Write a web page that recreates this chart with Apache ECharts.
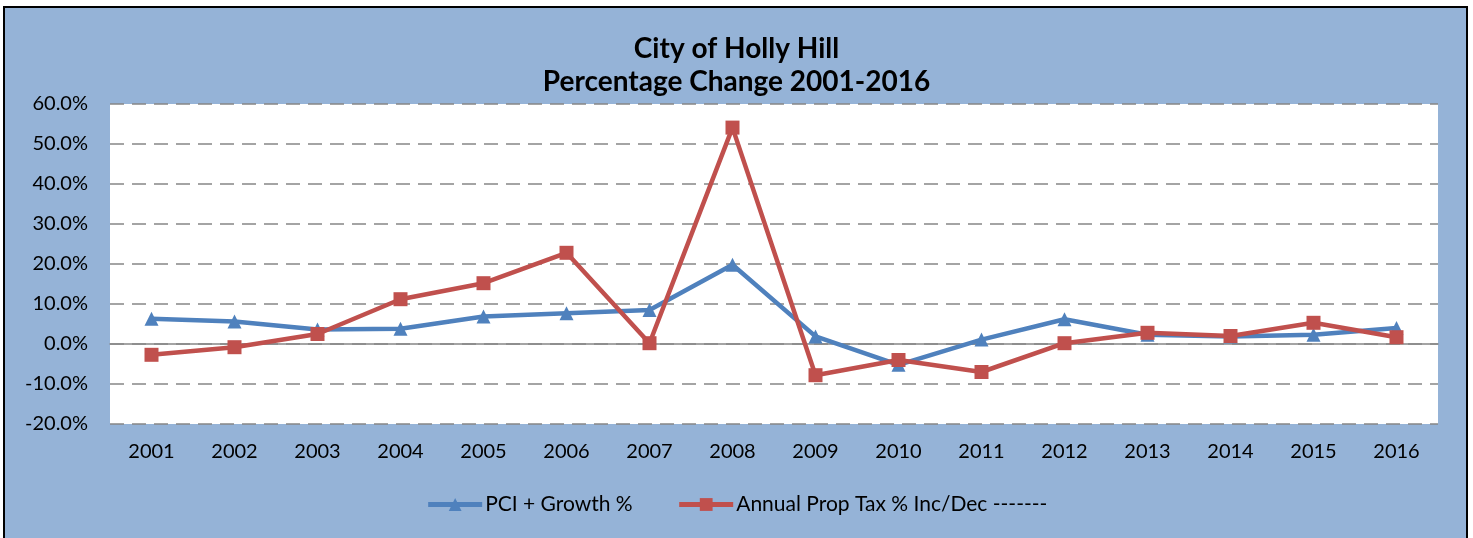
<!DOCTYPE html>
<html>
<head>
<meta charset="utf-8">
<script src="https://cdn.jsdelivr.net/npm/echarts@6/dist/echarts.min.js"></script>
<style>
  html, body { margin: 0; padding: 0; background: #fff; }
  #chart { width: 1473px; height: 538px; }
</style>
</head>
<body>
<div id="chart"></div>
<script>
// years along the x axis
var years = ["2001", "2002", "2003", "2004", "2005", "2006", "2007", "2008",
  "2009", "2010", "2011", "2012", "2013", "2014", "2015", "2016"];
// PCI + Growth % (percent)
var pciGrowth = [6.3, 5.6, 3.6, 3.8, 6.9, 7.7, 8.5, 19.8, 1.9, -5.2, 1.1, 6.2, 2.3, 1.9, 2.3, 4.0];
// Annual Prop Tax % Inc/Dec (percent)
var propTax = [-2.7, -0.8, 2.5, 11.2, 15.2, 22.8, 0.2, 54.1, -7.8, -4.0, -7.0, 0.2, 2.8, 2.0, 5.3, 1.7];
var seriesNames = ["PCI + Growth %", "Annual Prop Tax % Inc/Dec -------"];

var font = "Lato, 'Open Sans', sans-serif";
var myChart = echarts.init(document.getElementById("chart"));
var option = {
  backgroundColor: "#fff",
  textStyle: { fontFamily: font },
  graphic: [
    {
      type: "rect",
      z: -10,
      shape: { x: 4, y: 7, width: 1463, height: 545 },
      style: { fill: "#95B3D7", stroke: "#000", lineWidth: 2 }
    }
  ],
  title: {
    text: "City of Holly Hill\nPercentage Change 2001-2016",
    left: "center",
    top: 27,
    textStyle: {
      fontFamily: font,
      fontSize: 28,
      fontWeight: "bold",
      color: "#000",
      lineHeight: 33
    }
  },
  grid: {
    show: true,
    backgroundColor: "#fff",
    borderWidth: 0,
    left: 110,
    right: 35,
    top: 104,
    bottom: 114
  },
  legend: {
    bottom: 18,
    left: "center",
    itemWidth: 54,
    itemHeight: 16,
    itemGap: 44,
    data: seriesNames,
    lineStyle: { width: 5 },
    textStyle: { fontFamily: font, fontSize: 21, color: "#000", padding: [0, 0, 0, -2] }
  },
  xAxis: {
    type: "category",
    data: years,
    axisTick: { show: false },
    axisLine: { show: true, onZero: true, lineStyle: { color: "#868686", width: 1.5 } },
    axisLabel: { color: "#000", fontSize: 20, margin: 18, fontFamily: font }
  },
  yAxis: {
    type: "value",
    min: -20,
    max: 60,
    interval: 10,
    axisLine: { show: false },
    axisTick: { show: false },
    splitLine: {
      show: true,
      lineStyle: { color: "#868686", type: [14, 8], width: 1.5 }
    },
    axisLabel: {
      color: "#000",
      fontSize: 20,
      margin: 22,
      fontFamily: font,
      formatter: function (v) { return v.toFixed(1) + "%"; }
    }
  },
  series: [
    {
      name: seriesNames[0],
      type: "line",
      symbol: "triangle",
      symbolSize: 14,
      lineStyle: { color: "#4F81BD", width: 4.5 },
      itemStyle: { color: "#4F81BD" },
      data: pciGrowth
    },
    {
      name: seriesNames[1],
      type: "line",
      symbol: "rect",
      symbolSize: 14,
      lineStyle: { color: "#C0504D", width: 4.5 },
      itemStyle: { color: "#C0504D" },
      data: propTax
    }
  ]
};
myChart.setOption(option);
</script>
</body>
</html>
